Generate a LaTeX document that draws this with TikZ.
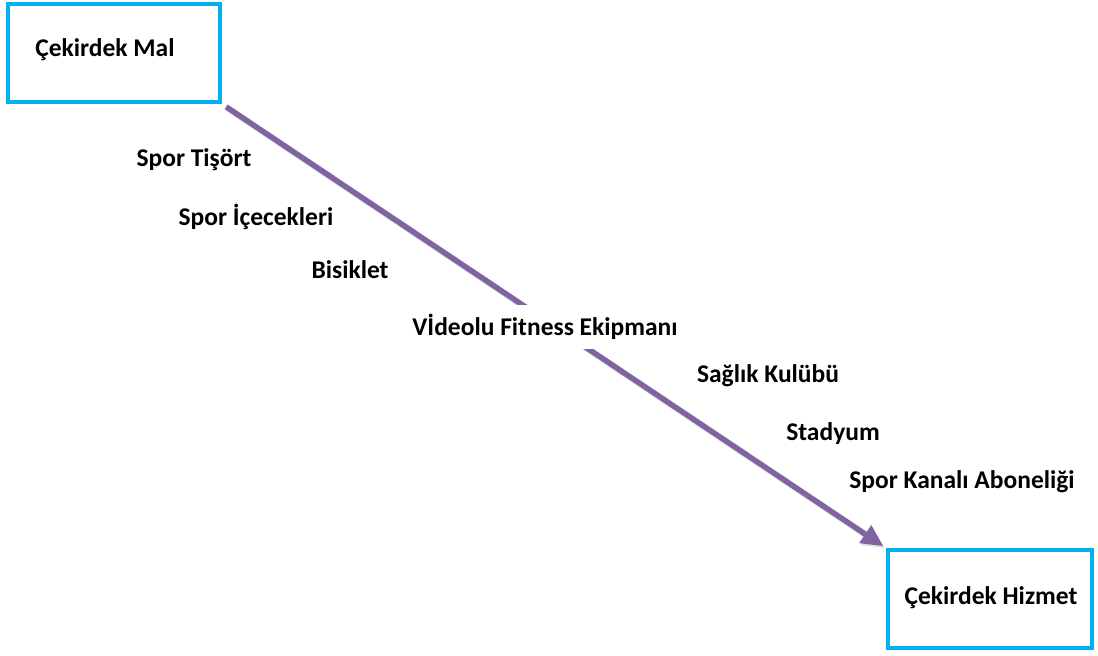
\documentclass[tikz,border=0pt]{standalone}
\usepackage{fontspec}
\setmainfont{Carlito}
\usetikzlibrary{arrows.meta}
\definecolor{boxcyan}{HTML}{00B0F0}
\definecolor{arrowpurple}{HTML}{8064A2}
\begin{document}
\begin{tikzpicture}[x=1pt,y=-1pt,
  corebox/.style={draw=boxcyan,line width=4pt,fill=white},
  item/.style={font=\fontsize{25.5}{30}\selectfont\bfseries,text=black,inner sep=2pt},
  flow/.style={draw=arrowpurple,line width=5.5pt,
    -{Triangle[length=22pt,width=20pt]},
    preaction={draw=black!35,opacity=0.35,line width=5.5pt,
      transform canvas={shift={(1.5pt,-2pt)}},-{Triangle[length=22pt,width=20pt]}}}]
  \useasboundingbox (0,0) rectangle (1098,656);

  % end boxes
  \path[corebox] (8,4) rectangle (220,102);
  \node[item] (mal) at (105,50) {Çekirdek Mal};
  \coordinate (malcorner) at (222,104);
  \path[corebox] (888,550) rectangle (1092,648);
  \node[item] (hizmet) at (991,598) {Çekirdek Hizmet};
  \coordinate (hizcorner) at (886,548);

  % continuum arrow
  \draw[flow,shorten <=5pt,shorten >=3pt] (malcorner) -- (hizcorner);

  % products and services along the continuum
  \node[item] (tisort) at (194,160) {Spor Tişört};
  \node[item] (icecek) at (256,217) {Spor İçecekleri};
  \node[item] (bisiklet) at (350,270) {Bisiklet};
  \node[item,fill=white,inner xsep=4pt,inner ysep=9pt] (fitness) at (545,327) {Vİdeolu Fitness Ekipmanı};
  \node[item] (kulup) at (768,376) {Sağlık Kulübü};
  \node[item] (stadyum) at (833,434) {Stadyum};
  \node[item] (kanal) at (962,482) {Spor Kanalı Aboneliği};
\end{tikzpicture}
\end{document}
